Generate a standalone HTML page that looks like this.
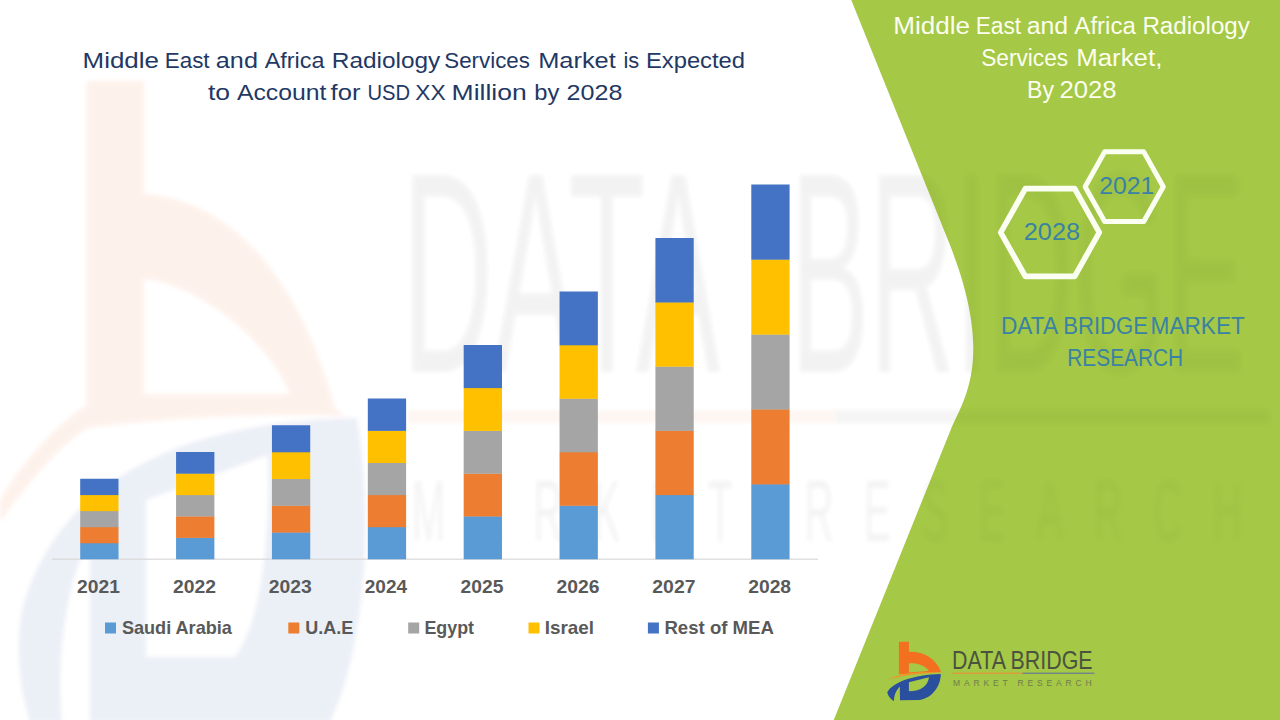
<!DOCTYPE html>
<html><head><meta charset="utf-8"><title>Middle East and Africa Radiology Services Market</title>
<style>
html,body{margin:0;padding:0;background:#fff;}
body{width:1280px;height:720px;overflow:hidden;font-family:"Liberation Sans",sans-serif;}
svg{display:block}
text{font-family:"Liberation Sans",sans-serif;}
.t{font-size:22.6px;fill:#1F3864}
.w{font-size:23px;fill:#FCFFF0}
.bl{font-size:23px;fill:#3A82A4}
.ax{font-size:18.4px;font-weight:bold;fill:#595959}
.lg{font-size:18.6px;font-weight:bold;fill:#595959}
</style></head><body>
<svg width="1280" height="720" viewBox="0 0 1280 720">
<defs>
<filter id="blur2" x="-5%" y="-5%" width="110%" height="110%"><feGaussianBlur stdDeviation="2.2"/></filter>
<filter id="blur1" x="-5%" y="-50%" width="110%" height="200%"><feGaussianBlur stdDeviation="1.5"/></filter>
<filter id="blur3" x="-5%" y="-5%" width="110%" height="110%"><feGaussianBlur stdDeviation="3.5"/></filter>
<clipPath id="gclip"><path d="M851.25,0 L947.97,240 C996.33,360 962.71,400 950.62,430 L833.75,720 L1280,720 L1280,0 Z"/></clipPath>
</defs>
<rect width="1280" height="720" fill="#ffffff"/>

<!-- watermark on white -->
<g id="wm" opacity="0.085" filter="url(#blur2)">
  <path fill="#F26A21" fill-rule="evenodd" d="M86.5,81 H144 V194 C233,200 300,280 335,408 L345,416 C250,412 150,420 86.5,428 Z M144,279 C200,285 268,340 290,394 L144,394 Z"/>
  <path fill="#F26A21" d="M0,522 C30,480 60,445 88,428 L88,404 C55,425 20,465 0,500 Z"/>
  <path fill="#2A4F9E" fill-rule="evenodd" d="M357,418 C200,420 60,470 22,610 C15,650 20,690 30,722 L62,722 C55,650 70,570 90,540 L90,722 L330,722 C365,650 374,520 357,418 Z M146,500 L268,455 C270,540 262,620 235,657 L146,657 Z"/>
</g>
<g opacity="0.05" filter="url(#blur2)" fill="#222">
  <g transform="translate(0,372) scale(1,1.824)" font-size="157"><text x="402.22" y="0" textLength="318.01" lengthAdjust="spacingAndGlyphs">DATA</text>
<text x="790.27" y="0" textLength="454.83" lengthAdjust="spacingAndGlyphs">BRIDGE</text></g>
  <text transform="translate(412,541) scale(1,2.2)" font-size="40" textLength="830" lengthAdjust="spacing">MARKET RESEARCH</text>
</g>
<g opacity="0.05" filter="url(#blur1)">
  <rect x="408" y="410" width="428" height="13" fill="#F26A21"/>
  <rect x="836" y="410" width="434" height="13" fill="#555"/>
</g>

<!-- green panel -->
<path d="M851.25,0 L947.97,240 C996.33,360 962.71,400 950.62,430 L833.75,720 L1280,720 L1280,0 Z" fill="#A5C846"/>
<!-- watermark on green -->
<g clip-path="url(#gclip)">
<g opacity="0.028" filter="url(#blur3)" fill="#000">
  <g transform="translate(0,372) scale(1,1.824)" font-size="157"><text x="402.22" y="0" textLength="318.01" lengthAdjust="spacingAndGlyphs">DATA</text>
<text x="790.27" y="0" textLength="454.83" lengthAdjust="spacingAndGlyphs">BRIDGE</text></g>
  <text transform="translate(412,541) scale(1,2.2)" font-size="40" textLength="830" lengthAdjust="spacing">MARKET RESEARCH</text>
  <rect x="836" y="410" width="434" height="13"/>
</g>
</g>

<!-- chart -->
<rect x="52" y="558.6" width="766" height="1.2" fill="#D9D9D9"/>
<rect x="80.20" y="542.95" width="38.3" height="16.35" fill="#5B9BD5"/>
<rect x="80.20" y="526.90" width="38.3" height="16.35" fill="#ED7D31"/>
<rect x="80.20" y="510.85" width="38.3" height="16.35" fill="#A5A5A5"/>
<rect x="80.20" y="494.80" width="38.3" height="16.35" fill="#FFC000"/>
<rect x="80.20" y="478.75" width="38.3" height="16.35" fill="#4472C4"/>
<rect x="176.07" y="537.60" width="38.3" height="21.70" fill="#5B9BD5"/>
<rect x="176.07" y="516.20" width="38.3" height="21.70" fill="#ED7D31"/>
<rect x="176.07" y="494.80" width="38.3" height="21.70" fill="#A5A5A5"/>
<rect x="176.07" y="473.40" width="38.3" height="21.70" fill="#FFC000"/>
<rect x="176.07" y="452.00" width="38.3" height="21.70" fill="#4472C4"/>
<rect x="271.94" y="532.25" width="38.3" height="27.05" fill="#5B9BD5"/>
<rect x="271.94" y="505.50" width="38.3" height="27.05" fill="#ED7D31"/>
<rect x="271.94" y="478.75" width="38.3" height="27.05" fill="#A5A5A5"/>
<rect x="271.94" y="452.00" width="38.3" height="27.05" fill="#FFC000"/>
<rect x="271.94" y="425.25" width="38.3" height="27.05" fill="#4472C4"/>
<rect x="367.81" y="526.90" width="38.3" height="32.40" fill="#5B9BD5"/>
<rect x="367.81" y="494.80" width="38.3" height="32.40" fill="#ED7D31"/>
<rect x="367.81" y="462.70" width="38.3" height="32.40" fill="#A5A5A5"/>
<rect x="367.81" y="430.60" width="38.3" height="32.40" fill="#FFC000"/>
<rect x="367.81" y="398.50" width="38.3" height="32.40" fill="#4472C4"/>
<rect x="463.68" y="516.20" width="38.3" height="43.10" fill="#5B9BD5"/>
<rect x="463.68" y="473.40" width="38.3" height="43.10" fill="#ED7D31"/>
<rect x="463.68" y="430.60" width="38.3" height="43.10" fill="#A5A5A5"/>
<rect x="463.68" y="387.80" width="38.3" height="43.10" fill="#FFC000"/>
<rect x="463.68" y="345.00" width="38.3" height="43.10" fill="#4472C4"/>
<rect x="559.55" y="505.50" width="38.3" height="53.80" fill="#5B9BD5"/>
<rect x="559.55" y="452.00" width="38.3" height="53.80" fill="#ED7D31"/>
<rect x="559.55" y="398.50" width="38.3" height="53.80" fill="#A5A5A5"/>
<rect x="559.55" y="345.00" width="38.3" height="53.80" fill="#FFC000"/>
<rect x="559.55" y="291.50" width="38.3" height="53.80" fill="#4472C4"/>
<rect x="655.42" y="494.80" width="38.3" height="64.50" fill="#5B9BD5"/>
<rect x="655.42" y="430.60" width="38.3" height="64.50" fill="#ED7D31"/>
<rect x="655.42" y="366.40" width="38.3" height="64.50" fill="#A5A5A5"/>
<rect x="655.42" y="302.20" width="38.3" height="64.50" fill="#FFC000"/>
<rect x="655.42" y="238.00" width="38.3" height="64.50" fill="#4472C4"/>
<rect x="751.29" y="484.10" width="38.3" height="75.20" fill="#5B9BD5"/>
<rect x="751.29" y="409.20" width="38.3" height="75.20" fill="#ED7D31"/>
<rect x="751.29" y="334.30" width="38.3" height="75.20" fill="#A5A5A5"/>
<rect x="751.29" y="259.40" width="38.3" height="75.20" fill="#FFC000"/>
<rect x="751.29" y="184.50" width="38.3" height="75.20" fill="#4472C4"/>
<g class="ax">
<text x="77.13" y="593" textLength="42.80" lengthAdjust="spacingAndGlyphs">2021</text>
<text x="173.00" y="593" textLength="43.05" lengthAdjust="spacingAndGlyphs">2022</text>
<text x="268.87" y="593" textLength="42.97" lengthAdjust="spacingAndGlyphs">2023</text>
<text x="364.75" y="593" textLength="42.36" lengthAdjust="spacingAndGlyphs">2024</text>
<text x="460.61" y="593" textLength="42.80" lengthAdjust="spacingAndGlyphs">2025</text>
<text x="556.48" y="593" textLength="42.97" lengthAdjust="spacingAndGlyphs">2026</text>
<text x="652.35" y="593" textLength="43.12" lengthAdjust="spacingAndGlyphs">2027</text>
<text x="748.22" y="593" textLength="42.86" lengthAdjust="spacingAndGlyphs">2028</text>
</g>
<g class="lg">
<rect x="105" y="622.5" width="11" height="11" fill="#5B9BD5"/>
<text x="121.88" y="633.7" textLength="110.00" lengthAdjust="spacingAndGlyphs">Saudi Arabia</text>
<rect x="288.3" y="622.5" width="11" height="11" fill="#ED7D31"/>
<text x="305.22" y="633.7" textLength="47.98" lengthAdjust="spacingAndGlyphs">U.A.E</text>
<rect x="408.2" y="622.5" width="11" height="11" fill="#A5A5A5"/>
<text x="424.41" y="633.7" textLength="49.61" lengthAdjust="spacingAndGlyphs">Egypt</text>
<rect x="528.5" y="622.5" width="11" height="11" fill="#FFC000"/>
<text x="544.74" y="633.7" textLength="49.19" lengthAdjust="spacingAndGlyphs">Israel</text>
<rect x="647.9" y="622.5" width="11" height="11" fill="#4472C4"/>
<text x="664.46" y="633.7" textLength="109.43" lengthAdjust="spacingAndGlyphs">Rest of MEA</text>
</g>

<!-- title -->
<g class="t">
<text x="82.57" y="68.1" textLength="76.38" lengthAdjust="spacingAndGlyphs">Middle</text>
<text x="164.76" y="68.1" textLength="44.80" lengthAdjust="spacingAndGlyphs">East</text>
<text x="215.83" y="68.1" textLength="42.10" lengthAdjust="spacingAndGlyphs">and</text>
<text x="264.65" y="68.1" textLength="59.75" lengthAdjust="spacingAndGlyphs">Africa</text>
<text x="331.75" y="68.1" textLength="108.55" lengthAdjust="spacingAndGlyphs">Radiology</text>
<text x="444.29" y="68.1" textLength="85.62" lengthAdjust="spacingAndGlyphs">Services</text>
<text x="538.17" y="68.1" textLength="77.62" lengthAdjust="spacingAndGlyphs">Market</text>
<text x="623.54" y="68.1" textLength="15.75" lengthAdjust="spacingAndGlyphs">is</text>
<text x="645.95" y="68.1" textLength="99.08" lengthAdjust="spacingAndGlyphs">Expected</text>
<text x="208.00" y="100" textLength="22.11" lengthAdjust="spacingAndGlyphs">to</text>
<text x="236.95" y="100" textLength="89.48" lengthAdjust="spacingAndGlyphs">Account</text>
<text x="330.54" y="100" textLength="29.89" lengthAdjust="spacingAndGlyphs">for</text>
<text x="367.44" y="100" textLength="42.62" lengthAdjust="spacingAndGlyphs">USD</text>
<text x="415.39" y="100" textLength="30.39" lengthAdjust="spacingAndGlyphs">XX</text>
<text x="451.57" y="100" textLength="75.15" lengthAdjust="spacingAndGlyphs">Million</text>
<text x="534.37" y="100" textLength="25.08" lengthAdjust="spacingAndGlyphs">by</text>
<text x="566.54" y="100" textLength="55.80" lengthAdjust="spacingAndGlyphs">2028</text>
</g>

<!-- right panel text -->
<g class="w">
<text x="893.36" y="33.8" textLength="76.69" lengthAdjust="spacingAndGlyphs">Middle</text>
<text x="975.64" y="33.8" textLength="45.43" lengthAdjust="spacingAndGlyphs">East</text>
<text x="1026.74" y="33.8" textLength="41.46" lengthAdjust="spacingAndGlyphs">and</text>
<text x="1074.35" y="33.8" textLength="61.45" lengthAdjust="spacingAndGlyphs">Africa</text>
<text x="1142.42" y="33.8" textLength="107.43" lengthAdjust="spacingAndGlyphs">Radiology</text>
<text x="981.17" y="65.6" textLength="86.95" lengthAdjust="spacingAndGlyphs">Services</text>
<text x="1076.28" y="65.6" textLength="86.04" lengthAdjust="spacingAndGlyphs">Market,</text>
<text x="1027.11" y="97.5" textLength="26.94" lengthAdjust="spacingAndGlyphs">By</text>
<text x="1059.51" y="97.5" textLength="57.11" lengthAdjust="spacingAndGlyphs">2028</text>
</g>

<polygon points="1000.7,232.5 1025.35,188.65 1074.65,188.65 1099.3,232.5 1074.65,276.35 1025.35,276.35" fill="none" stroke="#FBFFF2" stroke-width="5.6" stroke-linejoin="round"/>
<polygon points="1085.1000000000001,186.7 1104.65,151.85 1143.75,151.85 1163.3,186.7 1143.75,221.54999999999998 1104.65,221.54999999999998" fill="none" stroke="#FBFFF2" stroke-width="5" stroke-linejoin="round"/>
<g class="bl">
<text x="1023.73" y="240.4" textLength="56.38" lengthAdjust="spacingAndGlyphs">2028</text>
<text x="1099.16" y="194.4" textLength="55.05" lengthAdjust="spacingAndGlyphs">2021</text>
<text x="1000.94" y="333.5" textLength="57.10" lengthAdjust="spacingAndGlyphs">DATA</text>
<text x="1063.19" y="333.5" textLength="84.76" lengthAdjust="spacingAndGlyphs">BRIDGE</text>
<text x="1150.54" y="333.5" textLength="94.38" lengthAdjust="spacingAndGlyphs">MARKET</text>
<text x="1067.29" y="365.8" textLength="115.91" lengthAdjust="spacingAndGlyphs">RESEARCH</text>
</g>

<!-- logo -->
<g transform="translate(875,630) scale(0.11111)">
    <path fill="#F37021" fill-rule="evenodd" d="M215,105 H305 V195 C430,190 550,250 594,378 L215,398 Z M305,300 C380,296 450,320 486,368 L305,383 Z"/>
    <path fill="#F0932B" d="M108,450 C250,378 450,368 622,388 C450,386 260,402 108,450 Z"/>
    <path fill="#2A4F9E" fill-rule="evenodd" d="M110,560 C160,470 350,402 592,396 C592,500 520,612 400,630 L225,633 L223,508 C186,545 168,600 172,642 C140,620 115,592 110,560 Z M305,470 L486,425 C475,500 420,548 305,552 Z"/>
</g>
<g font-size="26" fill="#4A5240"><text x="952.10" y="669.4" textLength="140.39" lengthAdjust="spacingAndGlyphs">DATA BRIDGE</text></g>
<rect x="952.4" y="672.6" width="70" height="1.3" fill="#E39A3B"/>
<rect x="1022.4" y="672.6" width="72" height="1.3" fill="#6B7F8E"/>
<text x="953" y="686" font-size="8.5" fill="#6E7D4C" textLength="138.6" lengthAdjust="spacing">MARKET RESEARCH</text>
</svg>
</body></html>
